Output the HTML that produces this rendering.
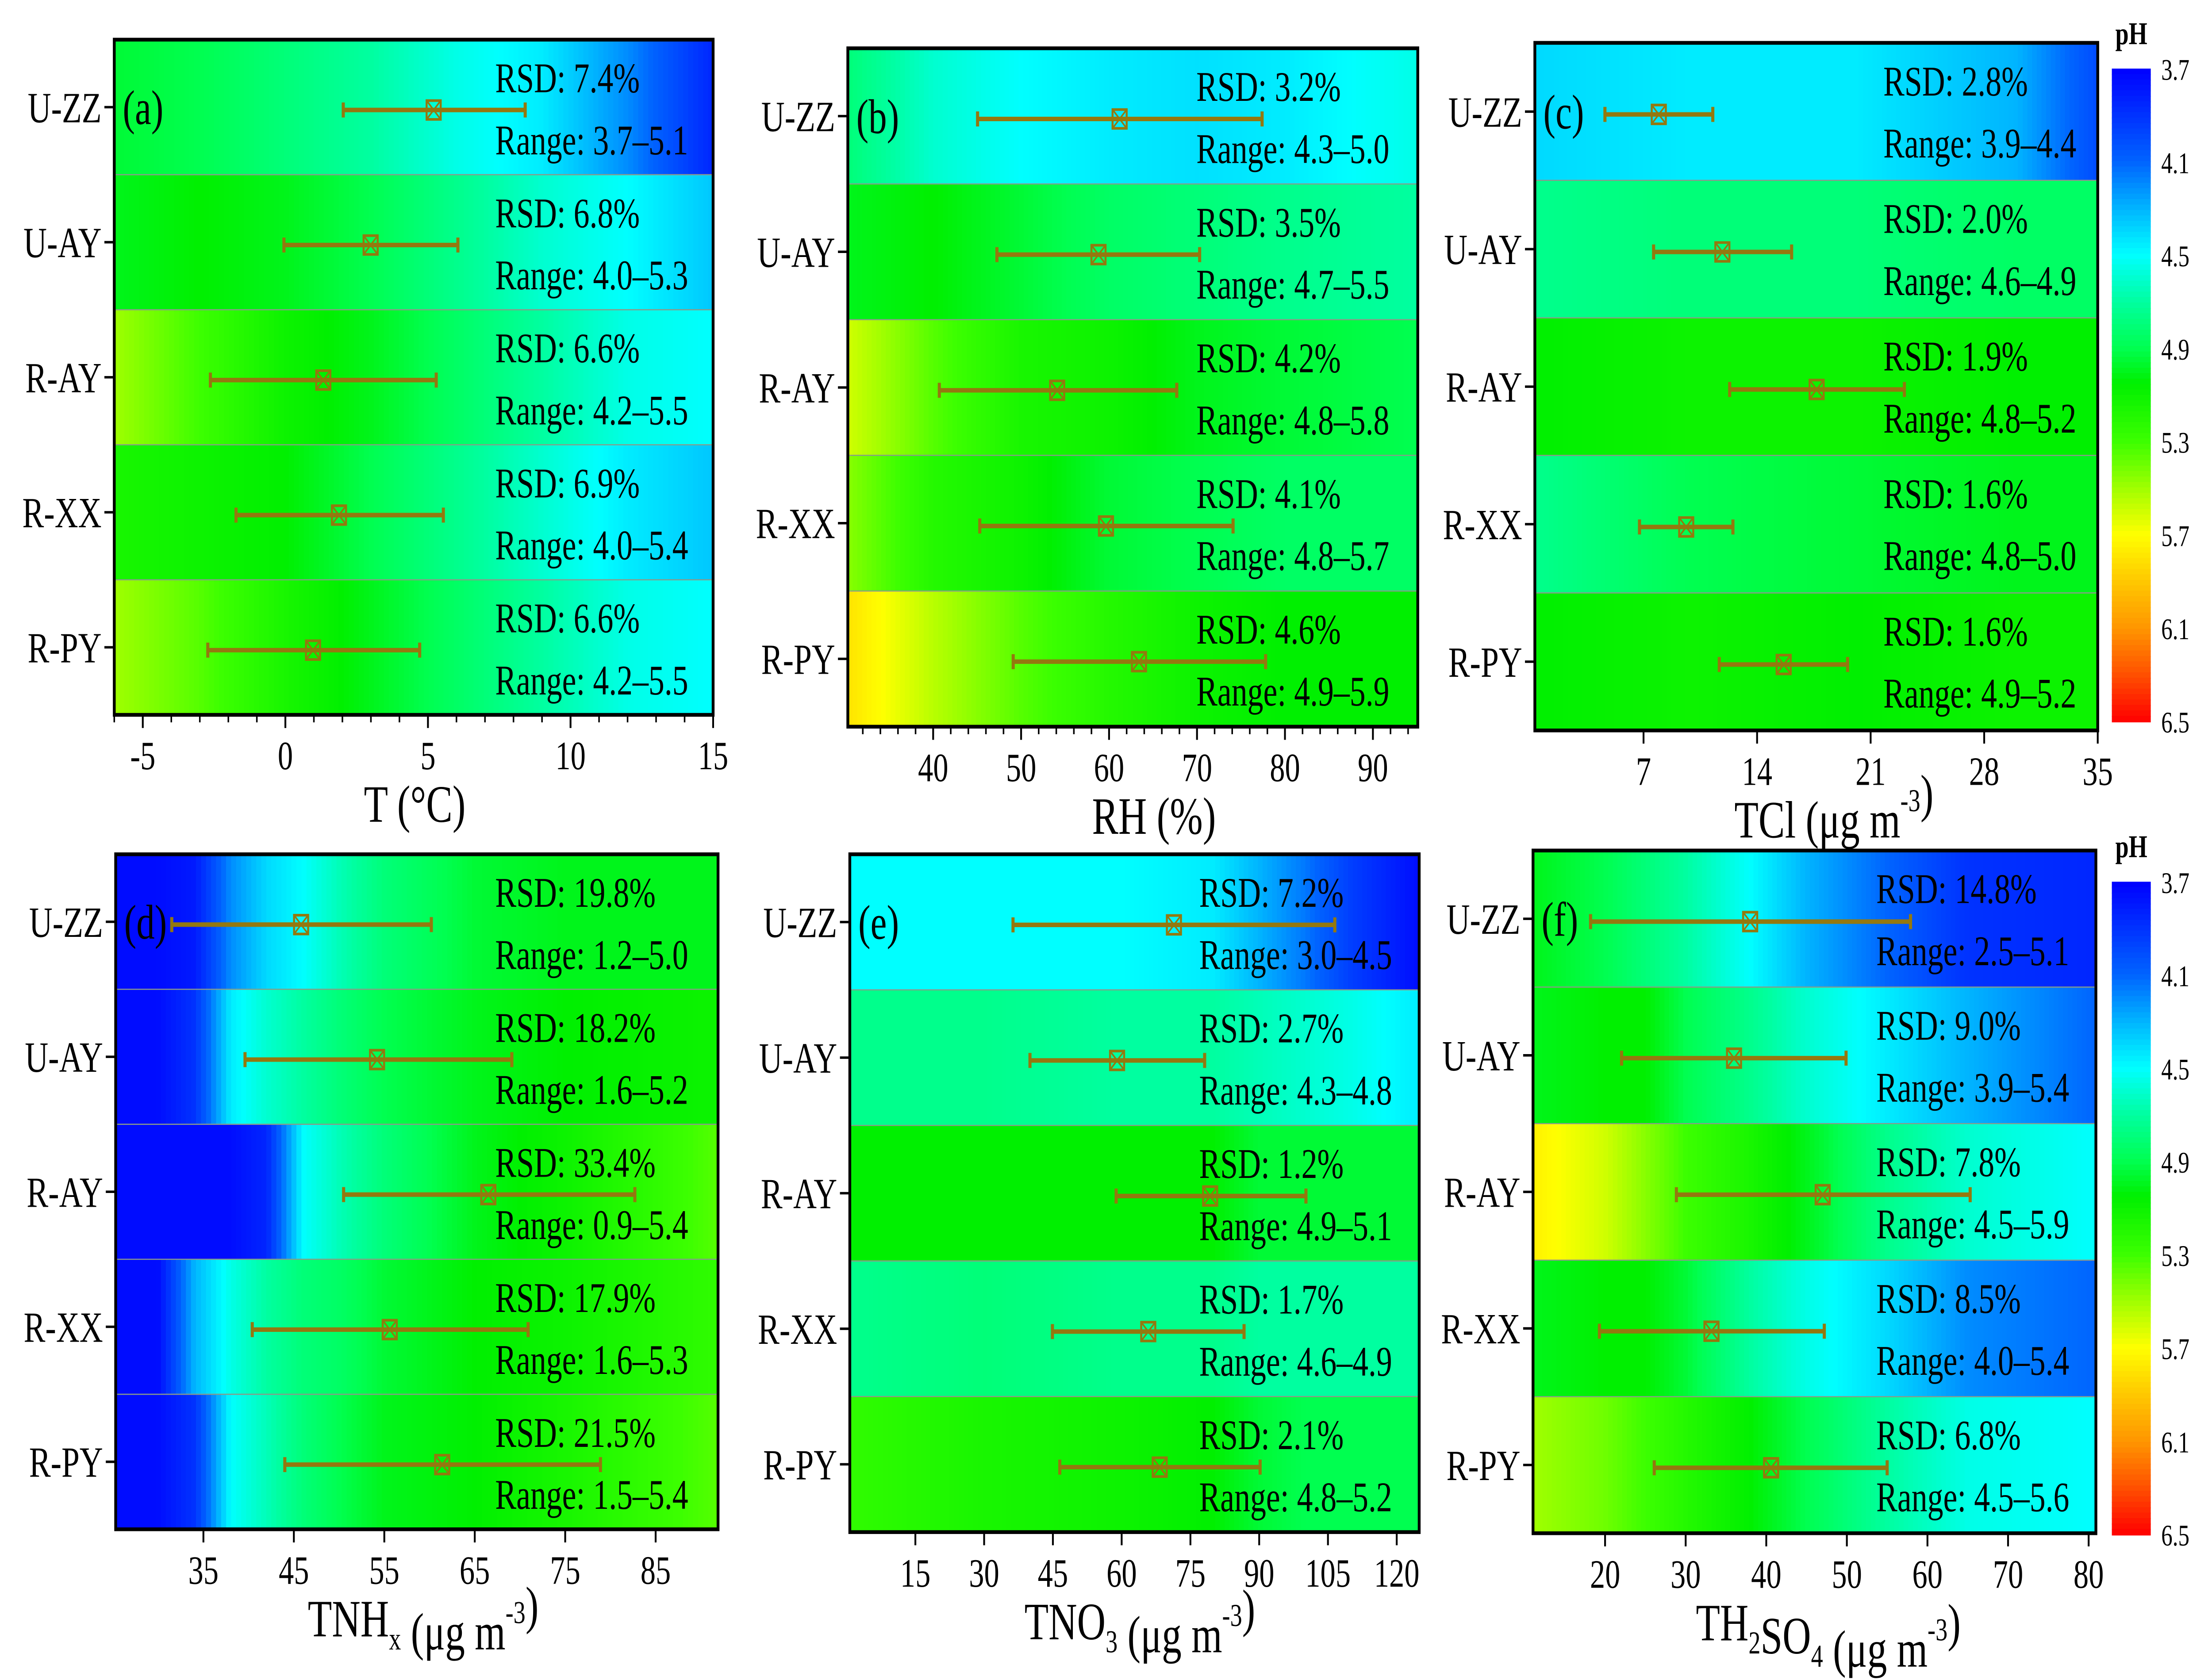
<!DOCTYPE html>
<html><head><meta charset="utf-8"><style>
html,body{margin:0;padding:0;background:#fff;width:100%;height:100%;overflow:hidden;}
svg{display:block;width:100vw;height:100vh;}
text{font-family:"Liberation Serif","Times New Roman",serif;fill:#000;}
</style></head><body>
<svg id="chart" xmlns="http://www.w3.org/2000/svg" viewBox="0 0 1568 894" preserveAspectRatio="none"></svg>
<script>
// ---------- data ----------
const sites = ["U-ZZ","U-AY","R-AY","R-XX","R-PY"];

// panel a: T
const aLo = [2.03,-0.05,-2.63,-1.73,-2.72];
const aMid = [5.2,2.99,1.33,1.88,0.97];
const aHi = [8.41,6.05,5.29,5.54,4.71];
const aRSD = ["7.4%","6.8%","6.6%","6.9%","6.6%"];
const aRange = ["3.7–5.1","4.0–5.3","4.2–5.5","4.0–5.4","4.2–5.5"];
const aGridX = [-6,-3,0,3,6,9,12,15];
const aPH = [[4.95,4.9,4.8,4.7,4.55,4.45,4.2,3.85],[5.0,5.05,5.0,4.9,4.75,4.6,4.5,4.35],[5.5,5.3,5.1,5.0,4.85,4.7,4.55,4.5],[5.15,5.1,5.05,4.9,4.75,4.6,4.45,4.35],[5.5,5.35,5.15,5.0,4.85,4.7,4.55,4.5]];
const aTicks = [-5,0,5,10,15];

// panel b: RH
const bLo = [45.05,47.25,40.7,45.3,49.1];
const bMid = [61.2,58.8,54.1,59.65,63.4];
const bHi = [77.4,70.3,67.7,74.1,77.8];
const bRSD = ["3.2%","3.5%","4.2%","4.1%","4.6%"];
const bRange = ["4.3–5.0","4.7–5.5","4.8–5.8","4.8–5.7","4.9–5.9"];
const bGridX = [30.3,40,50,60,70,80,95.1];
const bPH = [[4.8,4.6,4.5,4.45,4.42,4.45,4.55],[5.0,5.05,4.95,4.85,4.8,4.75,4.7],[5.6,5.35,5.15,5.1,5.0,4.95,4.9],[5.45,5.2,5.1,4.95,4.9,4.85,4.85],[5.8,5.55,5.35,5.2,5.1,5.05,5.05]];
const bTicks = [40,50,60,70,80,90];

// panel c: TCl
const cLo = [4.62,7.62,12.31,6.75,11.67];
const cMid = [7.94,11.86,17.67,9.63,15.64];
const cHi = [11.27,16.13,23.08,12.51,19.58];
const cRSD = ["2.8%","2.0%","1.9%","1.6%","1.6%"];
const cRange = ["3.9–4.4","4.6–4.9","4.8–5.2","4.8–5.0","4.9–5.2"];
const cGridX = [0.3,10,20,30,35];
const cPH = [[4.4,4.45,4.45,4.3,4.0],[4.75,4.8,4.8,4.85,4.85],[5.05,5.1,5.1,5.05,5.05],[4.75,4.9,4.95,5.0,5.0],[5.05,5.1,5.05,5.1,5.1]];
const cTicks = [7,14,21,28,35];

// panel d: TNHx
const dLo = [31.5,39.6,50.5,40.4,44.0];
const dMid = [45.8,54.2,66.5,55.6,61.4];
const dHi = [60.2,69.1,82.7,70.9,78.9];
const dRSD = ["19.8%","18.2%","33.4%","17.9%","21.5%"];
const dRange = ["1.2–5.0","1.6–5.2","0.9–5.4","1.6–5.3","1.5–5.4"];
const dGridX = [25.3,30,34,38,42,46,50,55,65,75,91.9];
const dPH = [[3.75,3.75,3.8,4.2,4.4,4.5,4.65,4.8,4.95,5.0,5.0],[3.75,3.75,3.9,4.45,4.6,4.7,4.8,4.9,5.0,5.05,5.1],[3.75,3.75,3.75,3.75,3.85,4.5,4.65,4.8,5.0,5.1,5.35],[3.75,3.75,4.3,4.55,4.7,4.8,4.85,4.95,5.05,5.1,5.25],[3.75,3.75,3.9,4.5,4.65,4.8,4.9,5.0,5.05,5.15,5.35]];
const dTicks = [35,45,55,65,75,85];

// panel e: TNO3
const eLo = [36.3,40.0,58.8,44.9,46.5];
const eMid = [71.4,59.0,79.3,65.8,68.3];
const eHi = [106.5,78.1,100.2,86.7,90.2];
const eRSD = ["7.2%","2.7%","1.2%","1.7%","2.1%"];
const eRange = ["3.0–4.5","4.3–4.8","4.9–5.1","4.6–4.9","4.8–5.2"];
const eGridX = [0.7,30,60,80,90,100,110,124.9];
const ePH = [[4.5,4.5,4.5,4.45,4.3,4.15,3.95,3.75],[4.75,4.75,4.7,4.7,4.65,4.6,4.55,4.45],[5.05,5.05,5.05,5.05,4.95,4.95,4.95,4.95],[4.75,4.8,4.75,4.75,4.7,4.7,4.7,4.7],[5.25,5.15,5.1,5.05,4.95,4.9,4.9,4.9]];
const eTicks = [15,30,45,60,75,90,105,120];

// panel f: TH2SO4
const fLo = [18.2,22.05,28.85,19.3,26.1];
const fMid = [38.0,36.0,47.0,33.2,40.6];
const fHi = [57.9,49.9,65.3,47.2,55.0];
const fRSD = ["14.8%","9.0%","7.8%","8.5%","6.8%"];
const fRange = ["2.5–5.1","3.9–5.4","4.5–5.9","4.0–5.4","4.5–5.6"];
const fGridX = [11.06,20,25,30,38,45,55,65,80.9];
const fPH = [[5.0,4.9,4.8,4.7,4.5,4.3,4.1,3.9,3.85],[5.0,5.05,5.05,4.9,4.75,4.6,4.45,4.3,4.1],[5.75,5.6,5.45,5.3,5.15,5.0,4.75,4.6,4.5],[5.0,5.05,5.05,4.95,4.7,4.55,4.4,4.2,4.1],[5.5,5.4,5.3,5.2,5.05,4.9,4.7,4.55,4.5]];
const fTicks = [20,30,40,50,60,70,80];

// colorbar
const cbarTicks = [3.7,4.1,4.5,4.9,5.3,5.7,6.1,6.5];

// ---------- rendering ----------
const NS = "http://www.w3.org/2000/svg";
const svg = document.getElementById("chart");
function mk(tag, attrs, parent){
  const e = document.createElementNS(NS, tag);
  for (const k in attrs) e.setAttribute(k, attrs[k]);
  (parent||svg).appendChild(e);
  return e;
}
const stops = [[3.7,0,0,255],[4.1,0,100,255],[4.3,0,180,255],[4.5,0,255,255],[4.7,0,255,160],[4.9,0,255,80],[5.05,0,240,0],[5.3,60,255,0],[5.5,160,255,0],[5.7,255,255,0],[5.9,255,200,0],[6.1,255,150,0],[6.3,255,80,0],[6.5,255,0,0]];
function phColor(p){
  if (p<=stops[0][0]) return `rgb(${stops[0][1]},${stops[0][2]},${stops[0][3]})`;
  for (let i=1;i<stops.length;i++){
    if (p<=stops[i][0]){
      const a=stops[i-1], b=stops[i], t=(p-a[0])/(b[0]-a[0]);
      return `rgb(${Math.round(a[1]+(b[1]-a[1])*t)},${Math.round(a[2]+(b[2]-a[2])*t)},${Math.round(a[3]+(b[3]-a[3])*t)})`;
    }
  }
  const l=stops[stops.length-1]; return `rgb(${l[1]},${l[2]},${l[3]})`;
}
function interp(xs, ys, x){
  if (x<=xs[0]) return ys[0];
  for (let i=1;i<xs.length;i++) if (x<=xs[i]) return ys[i-1]+(ys[i]-ys[i-1])*(x-xs[i-1])/(xs[i]-xs[i-1]);
  return ys[ys.length-1];
}
const EB = "#94780f";

const panels = [
 {id:"a", x0:81, x1:505.5, y0:21.1, y1:380.4, dom:[-6,15], ticks:aTicks, minor:1, lo:aLo, mid:aMid, hi:aHi, rsd:aRSD, rng:aRange, gx:aGridX, ph:aPH, tx:351, title:[["T (°C)",""]], tcx:294},
 {id:"b", x0:601, x1:1005, y0:25.7, y1:386.7, dom:[30.3,95.1], ticks:bTicks, minor:2, lo:bLo, mid:bMid, hi:bHi, rsd:bRSD, rng:bRange, gx:bGridX, ph:bPH, tx:848, title:[["RH (%)",""]], tcx:818},
 {id:"c", x0:1088, x1:1487, y0:22.8, y1:388.7, dom:[0.3,35], ticks:cTicks, minor:0, lo:cLo, mid:cMid, hi:cHi, rsd:cRSD, rng:cRange, gx:cGridX, ph:cPH, tx:1335, title:[["TCl (μg m",""],["-3","sup"],[")",""]], tcx:1300},
 {id:"d", x0:82, x1:509, y0:454.6, y1:813.8, dom:[25.3,91.9], ticks:dTicks, minor:10, minorOff:5, lo:dLo, mid:dMid, hi:dHi, rsd:dRSD, rng:dRange, gx:dGridX, ph:dPH, tx:351, title:[["TNH",""],["x","sub"],[" (μg m",""],["-3","sup"],[")",""]], tcx:300},
 {id:"e", x0:602.4, x1:1006, y0:454.6, y1:815.3, dom:[0.7,124.9], ticks:eTicks, minor:0, lo:eLo, mid:eMid, hi:eHi, rsd:eRSD, rng:eRange, gx:eGridX, ph:ePH, tx:850, title:[["TNO",""],["3","sub"],[" (μg m",""],["-3","sup"],[")",""]], tcx:808},
 {id:"f", x0:1086.7, x1:1485.7, y0:452.6, y1:815.9, dom:[11.06,80.9], ticks:fTicks, minor:0, lo:fLo, mid:fMid, hi:fHi, rsd:fRSD, rng:fRange, gx:fGridX, ph:fPH, tx:1330, title:[["TH",""],["2","sub"],["SO",""],["4","sub"],[" (μg m",""],["-3","sup"],[")",""]], tcx:1296}
];

panels.forEach(P=>{
  const g = mk("g",{});
  
  
  const sx = v => P.x0 + (v-P.dom[0])/(P.dom[1]-P.dom[0])*(P.x1-P.x0);
  const rh = (P.y1-P.y0)/sites.length;
  const N = 120;
  sites.forEach((s,r)=>{
    const rowG = mk("g",{},g);
    
    
    const ry = P.y0 + r*rh;
    for (let i=0;i<N;i++){
      const v0 = P.dom[0] + (P.dom[1]-P.dom[0])*i/N;
      const v1 = P.dom[0] + (P.dom[1]-P.dom[0])*(i+1)/N;
      const p = interp(P.gx, P.ph[r], (v0+v1)/2);
      const c = mk("rect",{x:sx(v0), y:ry, width:sx(v1)-sx(v0)+0.6, height:rh, fill:phColor(p)}, rowG);
      
      
    }
    if (r>0){
      const sep = mk("line",{x1:P.x0, x2:P.x1, y1:ry, y2:ry, stroke:"#8a9a8a", "stroke-width":0.6}, g);
      
      
    }
  });
  sites.forEach((s,r)=>{
    const cy = P.y0 + (r+0.5)*rh;
    const t = mk("line",{x1:P.x0-7, x2:P.x0, y1:cy, y2:cy, stroke:"#000","stroke-width":1.3}, g);
    
    
    const lb = mk("text",{x:P.x0-9, y:cy+8, "font-size":23, "text-anchor":"end"}, g);
    lb.textContent = s;
    
    
    const by = cy + 1.5;
    const eb = mk("g",{},g);
    
    
    mk("line",{x1:sx(P.lo[r]), x2:sx(P.hi[r]), y1:by, y2:by, stroke:EB, "stroke-width":2.4}, eb);
    mk("line",{x1:sx(P.lo[r]), x2:sx(P.lo[r]), y1:by-4, y2:by+4, stroke:EB, "stroke-width":2.2}, eb);
    mk("line",{x1:sx(P.hi[r]), x2:sx(P.hi[r]), y1:by-4, y2:by+4, stroke:EB, "stroke-width":2.2}, eb);
    const mx = sx(P.mid[r]);
    const m = mk("g",{},g);
    
    
    mk("rect",{x:mx-5, y:by-5, width:10, height:10, fill:"none", stroke:EB, "stroke-width":1.4}, m);
    mk("path",{d:`M${mx-5},${by-5}L${mx+5},${by+5}M${mx+5},${by-5}L${mx-5},${by+5}`, stroke:EB, "stroke-width":1}, m);
    const ry = P.y0 + r*rh;
    const t1 = mk("text",{x:P.tx, y:ry+28, "font-size":22.5}, g);
    t1.textContent = "RSD: "+P.rsd[r];
    
    
    const t2 = mk("text",{x:P.tx, y:ry+61, "font-size":22.5}, g);
    t2.textContent = "Range: "+P.rng[r];
    
    
  });
  const pl = mk("text",{x:P.x0+6, y:P.y0+rh/2+9, "font-size":26}, g);
  pl.textContent = "("+P.id+")";
  
  
  const fr = mk("rect",{x:P.x0, y:P.y0, width:P.x1-P.x0, height:P.y1-P.y0, fill:"none", stroke:"#000","stroke-width":2}, g);
  
  
  if (P.minor){
    const off = P.minorOff||0;
    for (let v=Math.ceil((P.dom[0]-off)/P.minor)*P.minor+off; v<=P.dom[1]; v+=P.minor){
      const mt = mk("line",{x1:sx(v), x2:sx(v), y1:P.y1, y2:P.y1+4, stroke:"#000","stroke-width":1.1}, g);
      
      
    }
  }
  P.ticks.forEach(v=>{
    const t = mk("line",{x1:sx(v), x2:sx(v), y1:P.y1, y2:P.y1+7, stroke:"#000","stroke-width":1.3}, g);
    
    
    const l = mk("text",{x:sx(v), y:P.y1+29, "font-size":21.5, "text-anchor":"middle"}, g);
    l.textContent = v;
    
    
  });
  const tt = mk("text",{x:P.tcx, y:P.y1+57, "font-size":28, "text-anchor":"middle"}, g);
  
  
  P.title.forEach(([s,k])=>{
    const sp = mk("tspan",{}, tt);
    if (k==="sub"){ sp.setAttribute("font-size",17); sp.setAttribute("dy",7); }
    if (k==="sup"){ sp.setAttribute("font-size",17); sp.setAttribute("dy",-14); }
    sp.textContent = s;
    if (k){ const back = mk("tspan",{dy:(k==="sub"?-7:14)}, tt); back.textContent=""; }
  });
});

[0, 432.7].forEach((dy,ci)=>{
  const g = mk("g",{});
  
  
  const top = 36.5+dy, bot = 383.8+dy, x0 = 1497, w = 27.6;
  const lo = cbarTicks[0], hi = cbarTicks[cbarTicks.length-1];
  const sy = p => top + (p-lo)/(hi-lo)*(bot-top);
  const M = 120;
  for (let i=0;i<M;i++){
    const p0 = lo+(hi-lo)*i/M, p1 = lo+(hi-lo)*(i+1)/M;
    const c = mk("rect",{x:x0, y:sy(p0), width:w, height:sy(p1)-sy(p0)+0.6, fill:phColor((p0+p1)/2)}, g);
    
    
  }
  cbarTicks.forEach(p=>{
    const l = mk("text",{x:1532, y:sy(p)+6, "font-size":16}, g);
    l.textContent = p.toFixed(1);
    
    
  });
  const t = mk("text",{x:x0+w/2, y:top-13, "font-size":17, "font-weight":"bold", "text-anchor":"middle"}, g);
  t.textContent = "pH";
  
  
});
</script>
</body></html>
